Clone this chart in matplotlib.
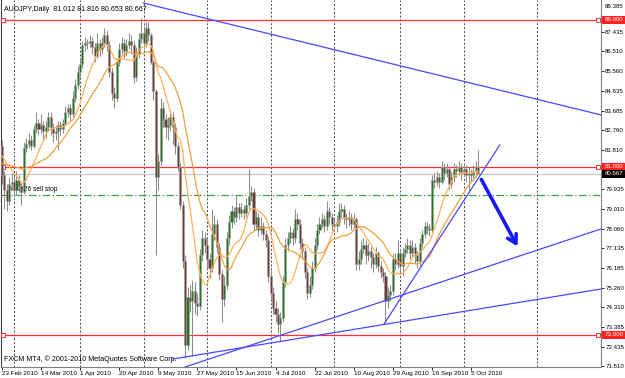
import numpy as np
import pandas as pd
import matplotlib.pyplot as plt

# ---- AUDJPY daily bars (FXCM, Sun-Fri sessions) ----
first_open = 82.0
closes = [80.6, 79.9, 79.4, 80.2, 80.3, 79.9, 80.4, 80.1, 79.8, 81.9,
          82.1, 82.3, 82.0, 82.8, 83.1, 82.8, 83.0, 82.7, 82.9, 83.4,
          82.9, 82.6, 82.7, 83.0, 82.8, 83.1, 83.6, 83.8, 83.5, 84.3,
          84.9, 85.5, 85.9, 86.8, 86.9, 86.9, 87.0, 86.7, 86.3, 86.9,
          86.6, 86.9, 87.3, 86.8, 85.5, 84.5, 84.3, 86.0, 86.6, 86.9,
          86.5, 86.8, 87.0, 86.8, 85.3, 86.4, 87.1, 87.4, 86.9, 87.6,
          87.3, 86.0, 84.6, 80.5, 81.3, 83.8, 83.3, 82.9, 83.0, 83.4,
          82.9, 82.0, 81.0, 79.2, 76.5, 72.5, 74.8, 74.6, 75.1, 74.5,
          74.4, 76.8, 77.6, 77.3, 76.6, 76.2, 77.8, 78.3, 77.2, 75.9,
          74.7, 75.4, 77.6, 78.4, 78.9, 78.6, 79.1, 78.8, 79.0, 78.8,
          79.2, 79.6, 79.8, 78.3, 78.6, 78.0, 78.2, 77.8, 77.5, 75.8,
          75.0, 74.3, 74.0, 73.5, 73.8, 75.5, 77.3, 77.6, 77.9, 77.6,
          78.5, 78.3, 77.4, 77.0, 76.0, 75.0, 75.4, 76.2, 77.3, 78.0,
          78.3, 78.5, 78.2, 78.9, 78.6, 78.3, 78.2, 78.4, 78.9, 79.0,
          78.6, 78.5, 78.6, 78.3, 78.5, 76.4, 76.6, 77.1, 77.3, 76.8,
          77.0, 76.7, 76.4, 76.9, 76.3, 76.0, 75.8, 74.6, 74.9, 75.1,
          76.6, 76.4, 76.9, 76.3, 76.9, 77.1, 77.3, 76.9, 77.2, 76.8,
          76.5, 77.4, 77.8, 78.2, 78.1, 78.0, 80.4, 80.3, 80.5, 80.3,
          81.0, 80.7, 80.9, 80.2, 80.5, 80.9, 80.8, 81.0, 80.7, 80.9,
          80.6, 80.7, 80.6, 80.8, 81.012, 80.667]
highs = [82.3, 80.8, 80.2, 80.5, 80.7, 80.5, 80.8, 80.6, 80.3, 82.2,
         82.4, 82.6, 82.5, 83.0, 83.6, 83.3, 83.5, 83.2, 83.2, 83.6,
         83.6, 83.1, 83.0, 83.2, 83.2, 83.3, 83.9, 84.0, 84.0, 84.6,
         85.2, 85.8, 86.2, 87.0, 87.2, 87.1, 87.3, 87.2, 86.9, 87.4,
         87.1, 87.2, 87.6, 87.5, 87.0, 85.7, 84.8, 86.2, 86.9, 87.2,
         87.1, 87.1, 87.4, 87.3, 87.0, 86.7, 87.4, 88.1, 87.7, 87.9,
         87.9, 87.4, 86.1, 84.7, 81.6, 84.3, 84.1, 83.5, 83.4, 83.7,
         83.6, 83.1, 82.2, 81.2, 79.4, 76.8, 75.3, 75.4, 75.6, 75.5,
         75.0, 77.1, 78.0, 77.9, 77.6, 76.9, 79.0, 78.7, 78.5, 77.4,
         76.1, 75.8, 77.9, 78.7, 79.2, 79.1, 79.6, 79.3, 79.3, 79.2,
         79.5, 80.9, 80.1, 80.0, 78.9, 78.8, 78.6, 78.4, 78.0, 77.7,
         76.1, 75.3, 74.6, 74.3, 74.1, 75.8, 77.6, 77.9, 78.2, 78.1,
         79.0, 78.8, 78.5, 77.6, 77.2, 76.2, 75.8, 76.5, 77.6, 78.3,
         78.6, 78.8, 78.7, 79.4, 79.1, 78.8, 78.5, 78.7, 79.3, 79.3,
         79.2, 78.8, 78.9, 78.8, 78.8, 78.6, 77.0, 77.5, 77.6, 77.5,
         77.4, 77.2, 76.9, 77.2, 77.0, 76.5, 76.2, 76.0, 75.3, 75.4,
         76.9, 76.9, 77.5, 77.1, 77.2, 77.4, 77.6, 77.5, 77.5, 77.4,
         77.0, 77.6, 78.0, 78.4, 78.4, 78.3, 80.6, 80.7, 80.8, 80.7,
         81.3, 81.2, 81.2, 81.0, 80.8, 81.2, 81.1, 81.3, 81.2, 81.2,
         81.1, 81.0, 80.9, 81.1, 81.3, 81.816]
lows = [80.2, 79.0, 78.9, 79.2, 79.9, 79.6, 79.7, 79.8, 79.2, 79.7,
        81.7, 81.9, 81.8, 81.9, 82.6, 82.5, 82.6, 82.3, 82.4, 82.7,
        82.5, 82.2, 82.3, 81.8, 82.5, 82.6, 83.0, 83.4, 83.2, 83.4,
        84.1, 84.7, 85.3, 85.7, 86.5, 86.6, 86.7, 86.4, 86.0, 86.2,
        86.3, 86.4, 86.7, 86.5, 85.3, 84.2, 83.8, 84.1, 85.8, 86.4,
        86.2, 86.3, 86.6, 86.4, 85.0, 85.1, 86.2, 86.9, 86.6, 86.7,
        87.0, 85.9, 84.2, 76.8, 79.9, 81.1, 82.9, 82.4, 82.3, 82.7,
        82.1, 81.6, 80.8, 79.0, 76.2, 71.9, 72.3, 74.1, 72.0, 74.0,
        73.9, 74.2, 76.5, 76.9, 76.2, 75.7, 76.0, 77.5, 76.9, 75.6,
        73.6, 74.4, 75.2, 77.3, 78.1, 78.3, 78.4, 78.5, 78.6, 78.5,
        78.6, 79.0, 79.4, 78.0, 78.0, 77.7, 77.8, 77.5, 77.2, 75.5,
        74.7, 74.0, 73.6, 73.1, 72.7, 73.6, 75.3, 77.0, 77.4, 77.3,
        77.4, 78.0, 77.1, 76.6, 75.7, 74.7, 74.8, 75.2, 76.0, 77.1,
        77.8, 78.1, 77.9, 78.0, 78.3, 78.0, 77.9, 77.9, 78.2, 78.6,
        78.3, 78.1, 78.2, 78.0, 78.1, 76.1, 76.1, 76.4, 76.9, 76.4,
        76.5, 76.2, 76.0, 76.2, 76.0, 75.7, 75.5, 73.6, 74.3, 74.6,
        74.9, 76.1, 76.2, 76.0, 75.8, 76.7, 76.9, 76.6, 76.7, 76.4,
        76.2, 76.3, 77.2, 77.6, 77.8, 77.7, 77.9, 80.0, 80.1, 80.0,
        80.2, 80.4, 80.5, 79.9, 80.0, 80.3, 80.5, 80.6, 80.4, 80.5,
        80.3, 79.9, 80.3, 80.4, 80.5, 80.653]
# closes before 23 Feb, only used to seed the moving averages
pre_closes = [80.2, 80.4, 80.1, 80.6, 80.9, 80.7, 81.0, 80.8, 81.1, 81.3,
              81.2, 81.5, 81.7, 81.4, 81.6, 81.8, 81.5, 81.7, 81.9, 81.6]

date_labels = ['23 Feb 2010', '14 Mar 2010', '1 Apr 2010', '20 Apr 2010',
               '9 May 2010', '27 May 2010', '15 Jun 2010', '4 Jul 2010',
               '22 Jul 2010', '10 Aug 2010', '29 Aug 2010', '16 Sep 2010',
               '5 Oct 2010']
price_ticks = [87.435, 86.510, 85.560, 84.635, 83.685, 82.760, 81.810,
               79.935, 79.010, 78.060, 77.135, 76.185, 75.260, 74.310,
               73.385, 72.435, 71.510]
level_lines = [88.0, 81.0, 73.0]
bid = 80.667
sell_stop = 79.667

n = len(closes)
opens = [first_open] + closes[:-1]
idx = np.arange(n)
dates = pd.bdate_range('2010-02-23', periods=n, freq='C',
                       weekmask='Sun Mon Tue Wed Thu Fri')

allc = pd.Series(pre_closes + closes)
ma_fast = allc.rolling(10).mean().values[len(pre_closes):]
ma_slow = allc.rolling(20).mean().values[len(pre_closes):]

fig = plt.figure(figsize=(6.25, 3.78), dpi=100)
ax = fig.add_axes([1 / 625, 11 / 378, 600 / 625, 367 / 378])
ax.set_xlim(-0.33, 245.2)
ax.set_ylim(71.476, 88.952)

# month separators (future area counts calendar days, like MT4)
month_starts = [i for i in range(1, n) if dates[i].month != dates[i - 1].month]
future_nov = (n - 1) + (pd.Timestamp('2010-11-01') - dates[-1]).days
for m in month_starts + [future_nov]:
    ax.axvline(m, color='#444444', lw=0.7, ls=(0, (2, 2)), zorder=1)

# horizontal levels
for p in level_lines:
    ax.axhline(p, color='#ff3030', lw=0.9, zorder=2)
    ax.plot([0.5, 244.0], [p, p], 's', ms=3, mfc='white', mec='#ff3030',
            mew=0.7, zorder=3, clip_on=False)
ax.axhline(bid, color='#c8c8c8', lw=0.9, zorder=2)
ax.axhline(sell_stop, color='#40a040', lw=0.9, ls=(0, (6, 2, 1, 2)), zorder=2)
ax.text(3, sell_stop + 0.08, '#40426 sell stop', fontsize=4.8,
        family='Liberation Sans', color='black', va='bottom', zorder=3)

# candles
o = np.array(opens)
c = np.array(closes)
bull = c >= o
ax.vlines(idx, lows, highs, color='#8c8c8c', lw=0.75, zorder=4)
body_lo = np.minimum(o, c)
body_h = np.maximum(np.abs(c - o), 0.04)
ax.bar(idx[bull], body_h[bull], bottom=body_lo[bull], width=0.85,
       color='#1f7a1f', edgecolor='#a0a0a0', lw=0.45, zorder=5)
ax.bar(idx[~bull], body_h[~bull], bottom=body_lo[~bull], width=0.85,
       color='#6e3a3a', edgecolor='#a0a0a0', lw=0.45, zorder=5)

# moving averages
ax.plot(idx, ma_fast, color='#ffb05a', lw=0.9, zorder=6)
ax.plot(idx, ma_slow, color='#f0a040', lw=0.9, zorder=6)

# trend lines
blue = '#4848ff'
ax.plot([57.8, 245.2], [88.81, 83.48], color=blue, lw=0.9, zorder=7)
ax.plot([70.0, 245.2], [71.857, 75.19], color=blue, lw=0.9, zorder=7)
ax.plot([75.0, 245.2], [71.476, 78.05], color=blue, lw=0.9, zorder=7)
ax.plot([156.4, 203.8], [73.52, 82.05], color=blue, lw=0.9, zorder=7)
ax.annotate('', xy=(211.6, 77.10), xytext=(195.7, 80.52),
            arrowprops=dict(arrowstyle='->, head_length=0.6, head_width=0.35',
                            color='#1818ff', lw=2.6), zorder=8)

# axes styling
ax.spines['top'].set_visible(False)
ax.spines['left'].set_color('#404040')
ax.spines['left'].set_linewidth(0.8)
for s in ['right', 'bottom']:
    ax.spines[s].set_color('#808080')
    ax.spines[s].set_linewidth(0.8)

ax.yaxis.tick_right()
ax.set_yticks(price_ticks)
ax.set_yticklabels([f'{v:.3f}' for v in price_ticks])
ax.tick_params(axis='y', length=2, width=0.6, pad=1.0, labelsize=4.4,
               colors='black')
ax.set_xticks(idx[::16])
ax.set_xticklabels(date_labels, ha='left')
ax.tick_params(axis='x', length=2, width=0.6, pad=1.0, labelsize=4.6,
               colors='black')
for lab in ax.get_xticklabels() + ax.get_yticklabels():
    lab.set_family('Liberation Sans')

ytr = ax.get_yaxis_transform()
ax.text(1.0055, 88.66, '88.385', transform=ytr, fontsize=4.4,
        family='Liberation Sans', va='center', ha='left', color='black')
for p in level_lines:
    ax.text(1.0055, p, f'{p:.3f}', transform=ytr, fontsize=4.4,
            family='Liberation Sans', va='center', ha='left', color='white',
            bbox=dict(boxstyle='square,pad=0.3', fc='#ff2020', ec='none'))
ax.text(1.0055, bid, f'{bid:.3f}', transform=ytr, fontsize=4.4,
        family='Liberation Sans', va='center', ha='left', color='white',
        bbox=dict(boxstyle='square,pad=0.3', fc='black', ec='none'))

ax.text(0.005, 0.985, 'AUDJPY,Daily  81.012 81.816 80.653 80.667',
        transform=ax.transAxes, fontsize=5.1, family='Liberation Sans',
        va='top', ha='left', color='black')
ax.text(0.005, 0.012, 'FXCM MT4, © 2001-2010 MetaQuotes Software Corp.',
        transform=ax.transAxes, fontsize=5.1, family='Liberation Sans',
        va='bottom', ha='left', color='black')

fig.savefig('out.png', dpi=100)
